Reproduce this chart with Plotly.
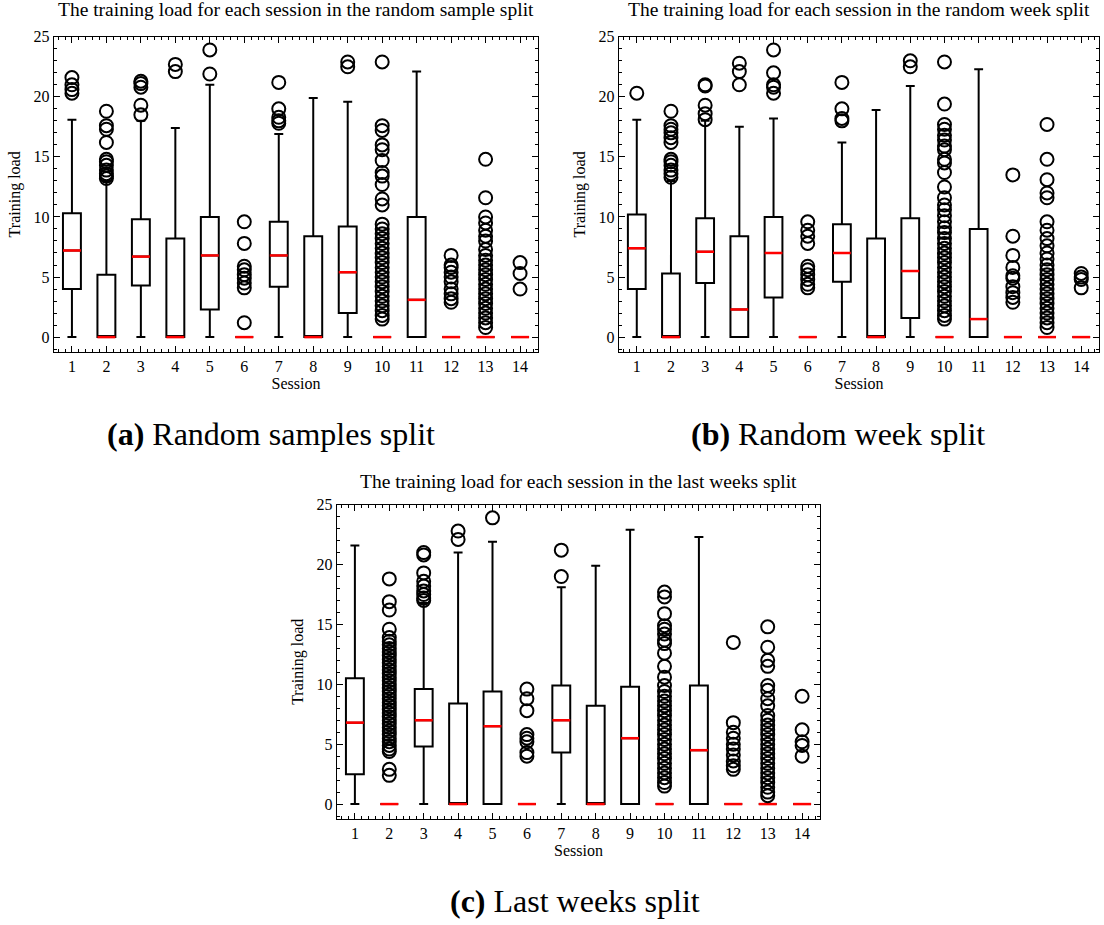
import plotly.graph_objects as go

sessions = list(range(1, 15))

# Panel (a): random sample split
a_q1 = [4.0, 0, 4.3, 0, 2.3, 0, 4.2, 0, 2.0, 0, 0, 0, 0, 0]
a_med = [7.2, 0, 6.7, 0, 6.8, 0, 6.8, 0, 5.4, 0, 3.1, 0, 0, 0]
a_q3 = [10.3, 5.2, 9.8, 8.2, 10.0, 0, 9.6, 8.4, 9.2, 0, 10.0, 0, 0, 0]
a_lo = [0] * 14
a_hi = [18.1, 13.0, 18.0, 17.4, 21.0, 0, 16.9, 19.9, 19.6, 0, 22.1, 0, 0, 0]
a_out = [
    [21.6, 21.0, 20.6, 20.3],
    [18.8, 17.6, 17.3, 16.2, 14.8, 14.6, 14.3, 13.9, 13.6, 13.4, 13.2],
    [21.3, 21.1, 20.8, 19.3, 18.5],
    [22.7, 22.1],
    [23.9, 21.9],
    [9.6, 7.8, 5.9, 5.6, 5.2, 4.9, 4.5, 4.1, 1.2],
    [21.2, 19.0, 18.3, 18.0, 17.8],
    [],
    [22.9, 22.5],
    [22.9, 17.6, 17.2, 16.0, 15.6, 14.7, 13.7, 13.4, 12.7, 11.5, 11.0, 9.4, 9.0, 8.6,
     8.2, 7.8, 7.4, 7.0, 6.6, 6.2, 5.8, 5.4, 5.0, 4.6, 4.2, 3.8, 3.4, 3.0, 2.6, 2.2, 1.8, 1.5],
    [],
    [6.8, 6.0, 5.8, 5.4, 5.0, 4.6, 4.0, 3.6, 3.2, 2.9],
    [14.8, 11.6, 10.0, 9.5, 8.9, 8.4, 8.0, 7.3, 6.8, 6.4, 6.0, 5.6, 5.2, 4.8, 4.4, 4.0,
     3.6, 3.2, 2.8, 2.4, 2.0, 1.6, 1.2, 0.8],
    [6.2, 5.3, 4.0],
]

# Panel (b): random week split
b_q1 = [4.0, 0, 4.5, 0, 3.3, 0, 4.6, 0, 1.6, 0, 0, 0, 0, 0]
b_med = [7.4, 0, 7.1, 2.3, 7.0, 0, 7.0, 0, 5.5, 0, 1.5, 0, 0, 0]
b_q3 = [10.2, 5.3, 9.9, 8.4, 10.0, 0, 9.4, 8.2, 9.9, 0, 9.0, 0, 0, 0]
b_lo = [0] * 14
b_hi = [18.1, 13.0, 18.0, 17.5, 18.2, 0, 16.2, 18.9, 20.9, 0, 22.3, 0, 0, 0]
b_out = [
    [20.3],
    [18.8, 17.6, 17.3, 17.0, 16.6, 16.2, 14.8, 14.6, 14.3, 13.9, 13.6, 13.3],
    [21.0, 20.9, 19.3, 18.6, 18.1],
    [22.8, 22.1, 21.0],
    [23.9, 22.0, 21.0, 20.8, 20.3],
    [9.6, 8.9, 8.4, 7.8, 5.9, 5.6, 5.2, 4.8, 4.4, 4.1],
    [21.2, 19.0, 18.2, 18.0],
    [],
    [23.0, 22.5],
    [22.9, 19.4, 17.7, 17.3, 16.8, 16.4, 15.9, 15.6, 14.8, 14.5, 13.7, 12.5, 11.6, 11.0,
     10.6, 10.1, 9.6, 9.1, 8.7, 8.2, 7.8, 7.4, 7.0, 6.6, 6.2, 5.8, 5.4, 5.0, 4.6, 4.2,
     3.8, 3.4, 3.0, 2.6, 2.2, 1.8, 1.5],
    [],
    [13.5, 8.4, 6.8, 5.8, 5.1, 4.9, 4.2, 3.7, 3.3, 2.9],
    [17.7, 14.8, 13.1, 12.0, 11.6, 9.6, 8.9, 8.2, 7.6, 7.0, 6.5, 6.0, 5.6, 5.2, 4.8, 4.4,
     4.0, 3.6, 3.2, 2.8, 2.4, 2.0, 1.6, 1.2, 0.8],
    [5.3, 5.0, 4.8, 4.1],
]

# Panel (c): last weeks split
c_q1 = [2.5, 0, 4.8, 0, 0, 0, 4.3, 0, 0, 0, 0, 0, 0, 0]
c_med = [6.8, 0, 7.0, 0, 6.5, 0, 7.0, 0, 5.5, 0, 4.5, 0, 0, 0]
c_q3 = [10.5, 0, 9.6, 8.4, 9.4, 0, 9.9, 8.2, 9.8, 0, 9.9, 0, 0, 0]
c_lo = [0] * 14
c_hi = [21.6, 0, 16.8, 21.0, 21.9, 0, 18.1, 19.9, 22.9, 0, 22.3, 0, 0, 0]
c_out = [
    [],
    [18.8, 16.9, 16.2, 14.6, 13.9, 13.6, 13.3, 13.0, 12.7, 12.4, 12.1, 11.8, 11.5, 11.2,
     10.9, 10.6, 10.3, 10.0, 9.7, 9.4, 9.1, 8.8, 8.5, 8.2, 7.9, 7.6, 7.3, 7.0, 6.7, 6.4,
     6.1, 5.8, 5.5, 5.2, 4.9, 4.6, 4.4, 2.9, 2.4],
    [21.0, 20.8, 19.3, 18.6, 18.2, 17.8, 17.5, 17.2, 17.0],
    [22.8, 22.1],
    [23.9],
    [9.6, 8.8, 7.8, 5.8, 5.5, 5.2, 4.3, 4.0],
    [21.2, 19.0],
    [],
    [],
    [17.7, 17.3, 15.9, 14.9, 14.6, 14.2, 13.7, 13.4, 12.6, 11.5, 10.6, 9.9, 9.4, 9.0, 8.6,
     8.2, 7.8, 7.4, 7.0, 6.6, 6.2, 5.8, 5.4, 5.0, 4.6, 4.2, 3.8, 3.4, 3.0, 2.6, 2.2, 1.8, 1.5],
    [],
    [13.5, 6.8, 6.0, 5.5, 5.0, 4.6, 4.1, 3.6, 3.2, 2.9],
    [14.8, 13.1, 12.0, 11.5, 9.9, 9.5, 8.8, 8.2, 7.4, 7.0, 6.6, 6.2, 5.8, 5.4, 5.0, 4.6,
     4.2, 3.8, 3.4, 3.0, 2.6, 2.2, 1.8, 1.4, 1.0, 0.7],
    [9.0, 6.2, 5.2, 4.9, 4.0],
]

titles = [
    "The training load for each session in the random sample split",
    "The training load for each session in the random week split",
    "The training load for each session in the last weeks split",
]
captions = [
    "<b>(a)</b> Random samples split",
    "<b>(b)</b> Random week split",
    "<b>(c)</b> Last weeks split",
]

FONT = "Liberation Serif"
W, H = 1104, 925
BOX_W = 0.52

panels = [
    (a_q1, a_med, a_q3, a_lo, a_hi, a_out),
    (b_q1, b_med, b_q3, b_lo, b_hi, b_out),
    (c_q1, c_med, c_q3, c_lo, c_hi, c_out),
]
# plot areas in pixels: left, right, top, bottom
areas = [(54, 538, 29, 347), (619, 1099, 29, 347), (337, 820, 501, 818)]
title_y = [2, 2, 478]

fig = go.Figure()
for k, (q1, med, q3, lo, hi, outs) in enumerate(panels):
    xa = "x" if k == 0 else f"x{k+1}"
    ya = "y" if k == 0 else f"y{k+1}"
    fig.add_trace(go.Box(
        x=sessions, q1=q1, median=med, q3=q3, lowerfence=lo, upperfence=hi,
        width=BOX_W, whiskerwidth=0.5, boxpoints=False,
        line=dict(color="black", width=2), fillcolor="rgba(0,0,0,0)",
        xaxis=xa, yaxis=ya, showlegend=False, hoverinfo="skip",
    ))
    mx, my = [], []
    for s, m in zip(sessions, med):
        mx += [s - BOX_W / 2, s + BOX_W / 2, None]
        my += [m, m, None]
    fig.add_trace(go.Scatter(
        x=mx, y=my, mode="lines", line=dict(color="#ff0000", width=2.5),
        xaxis=xa, yaxis=ya, showlegend=False, hoverinfo="skip",
    ))
    ox, oy = [], []
    for s, vals in zip(sessions, outs):
        ox += [s] * len(vals)
        oy += vals
    fig.add_trace(go.Scatter(
        x=ox, y=oy, mode="markers",
        marker=dict(symbol="circle-open", size=13, color="black", line=dict(width=2)),
        xaxis=xa, yaxis=ya, showlegend=False, hoverinfo="skip",
    ))

axis_common = dict(
    showline=True, linecolor="black", linewidth=1.4, mirror="allticks",
    ticks="inside", ticklen=6, tickwidth=1, tickcolor="black",
    showgrid=False, zeroline=False,
    tickfont=dict(family=FONT, size=16, color="black"),
)

layout = dict(
    width=W, height=H, margin=dict(l=0, r=0, t=0, b=0),
    paper_bgcolor="white", plot_bgcolor="white",
    font=dict(family=FONT, color="black"),
)
annotations = []
cap_pos = [(271, 430), (838, 430), (575, 901)]
for k, (l, r, t, b) in enumerate(areas):
    sfx = "" if k == 0 else str(k + 1)
    layout["xaxis" + sfx] = dict(
        axis_common, domain=[l / W, r / W], range=[0.48, 14.52],
        tickmode="array", tickvals=sessions, ticktext=[str(s) for s in sessions],
        minor=dict(ticks="inside", ticklen=3, dtick=0.2, tick0=0, tickcolor="black", showgrid=False),
        anchor="y" + sfx,
        title=dict(text="Session", font=dict(family=FONT, size=16), standoff=3),
    )
    layout["yaxis" + sfx] = dict(
        axis_common, domain=[1 - b / H, 1 - t / H], range=[-1.24, 25],
        tickvals=[0, 5, 10, 15, 20, 25],
        minor=dict(ticks="inside", ticklen=3, dtick=1, tick0=0, tickcolor="black", showgrid=False),
        anchor="x" + sfx,
        title=dict(text="Training load", font=dict(family=FONT, size=16), standoff=8),
    )
    annotations.append(dict(
        text=titles[k], x=(l + r) / 2 / W, y=1 - title_y[k] / H, xref="paper", yref="paper",
        xanchor="center", yanchor="middle", showarrow=False,
        font=dict(family=FONT, size=19.5, color="black"),
    ))
    cx, cy = cap_pos[k]
    annotations.append(dict(
        text=captions[k], x=cx / W, y=1 - cy / H, xref="paper", yref="paper",
        xanchor="center", yanchor="middle", showarrow=False,
        font=dict(family=FONT, size=32, color="black"),
    ))
layout["annotations"] = annotations
fig.update_layout(**layout)
fig.write_html("out.html")
